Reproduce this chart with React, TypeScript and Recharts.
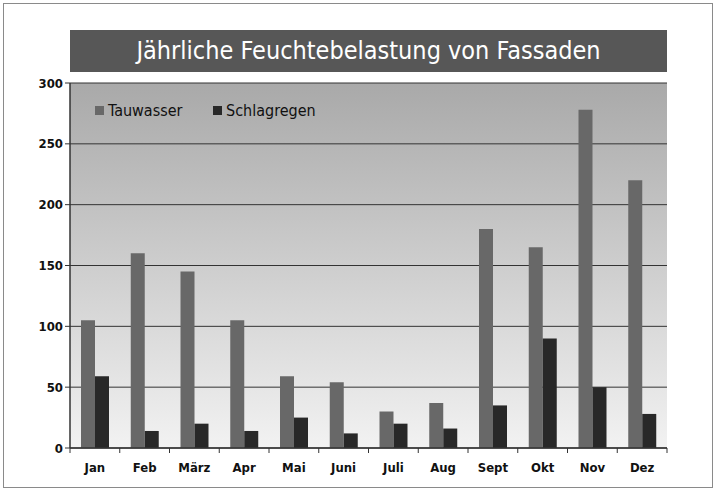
import { Bar, BarChart, CartesianGrid, XAxis, YAxis } from 'recharts'

const months = ['Jan', 'Feb', 'März', 'Apr', 'Mai', 'Juni', 'Juli', 'Aug', 'Sept', 'Okt', 'Nov', 'Dez']
const tauwasser = [105, 160, 145, 105, 59, 54, 30, 37, 180, 165, 278, 220]
const schlagregen = [59, 14, 20, 14, 25, 12, 20, 16, 35, 90, 50, 28]
const yTicks = [0, 50, 100, 150, 200, 250, 300]

const data = months.map((m, i) => ({ month: m, Tauwasser: tauwasser[i], Schlagregen: schlagregen[i] }))

const font = '"DejaVu Sans Condensed", "Liberation Sans Narrow", sans-serif'
const colors = { Tauwasser: '#686868', Schlagregen: '#282828' }

function LegendItem({ name, left }: { name: 'Tauwasser' | 'Schlagregen'; left: number }) {
  return (
    <div style={{ position: 'absolute', left, top: 101, display: 'flex', alignItems: 'center', fontSize: 16, color: '#111' }}>
      <span style={{ width: 9, height: 9, background: colors[name], marginRight: 4, display: 'inline-block' }} />
      {name}
    </div>
  )
}

// month label plus tick marks at the category boundaries
function MonthTick(props: any) {
  const { x, y, payload, index } = props
  const half = payload.offset || 0
  const last = index === months.length - 1
  return (
    <g>
      <line x1={x - half} x2={x - half} y1={y - 8} y2={y - 3} stroke="#333" />
      {last && <line x1={x + half} x2={x + half} y1={y - 8} y2={y - 3} stroke="#333" />}
      <text x={x} y={y + 16} textAnchor="middle" fill="#111" fontSize={13} fontWeight="bold" fontFamily={font}>
        {payload.value}
      </text>
    </g>
  )
}

export default function App() {
  return (
    <div style={{ position: 'fixed', top: 0, left: 0, width: 716, height: 491, background: '#fff', fontFamily: font }}>
      <div style={{ position: 'absolute', left: 3, top: 3, width: 708, height: 483, border: '1px solid #8a8a8a' }} />
      <div
        style={{
          position: 'absolute',
          left: 70,
          top: 30,
          width: 597,
          height: 42,
          background: '#575757',
          color: '#fff',
          fontSize: 25,
          lineHeight: '42px',
          textAlign: 'center',
        }}
      >
        Jährliche Feuchtebelastung von Fassaden
      </div>
      <BarChart
        width={716}
        height={491}
        data={data}
        margin={{ top: 83, right: 49, left: 10, bottom: 13 }}
        barCategoryGap={12}
        barGap={0}
        style={{ position: 'absolute', left: 0, top: 0 }}
      >
        <defs>
          <linearGradient id="plotBg" x1="0" y1="0" x2="0" y2="1">
            <stop offset="0%" stopColor="#a9a9a9" />
            <stop offset="100%" stopColor="#f2f2f2" />
          </linearGradient>
        </defs>
        <CartesianGrid fill="url(#plotBg)" fillOpacity={1} stroke="#333" vertical={false} />
        <XAxis
          dataKey="month"
          height={30}
          interval={0}
          axisLine={{ stroke: '#333', strokeWidth: 1.5 }}
          tickLine={false}
          tick={MonthTick}
        />
        <YAxis
          domain={[0, 300]}
          ticks={yTicks}
          width={60}
          tickSize={5}
          axisLine={{ stroke: '#333', strokeWidth: 1.5 }}
          tickLine={{ stroke: '#333' }}
          tick={{ fill: '#111', fontSize: 13, fontWeight: 'bold', fontFamily: font }}
        />
        <YAxis yAxisId="r" orientation="right" width={0} domain={[0, 300]} tick={false} tickLine={false} axisLine={{ stroke: '#999' }} />
        <Bar dataKey="Tauwasser" fill={colors.Tauwasser} barSize={14} isAnimationActive={false} />
        <Bar dataKey="Schlagregen" fill={colors.Schlagregen} barSize={14} isAnimationActive={false} />
      </BarChart>
      <LegendItem name="Tauwasser" left={95} />
      <LegendItem name="Schlagregen" left={213} />
    </div>
  )
}
